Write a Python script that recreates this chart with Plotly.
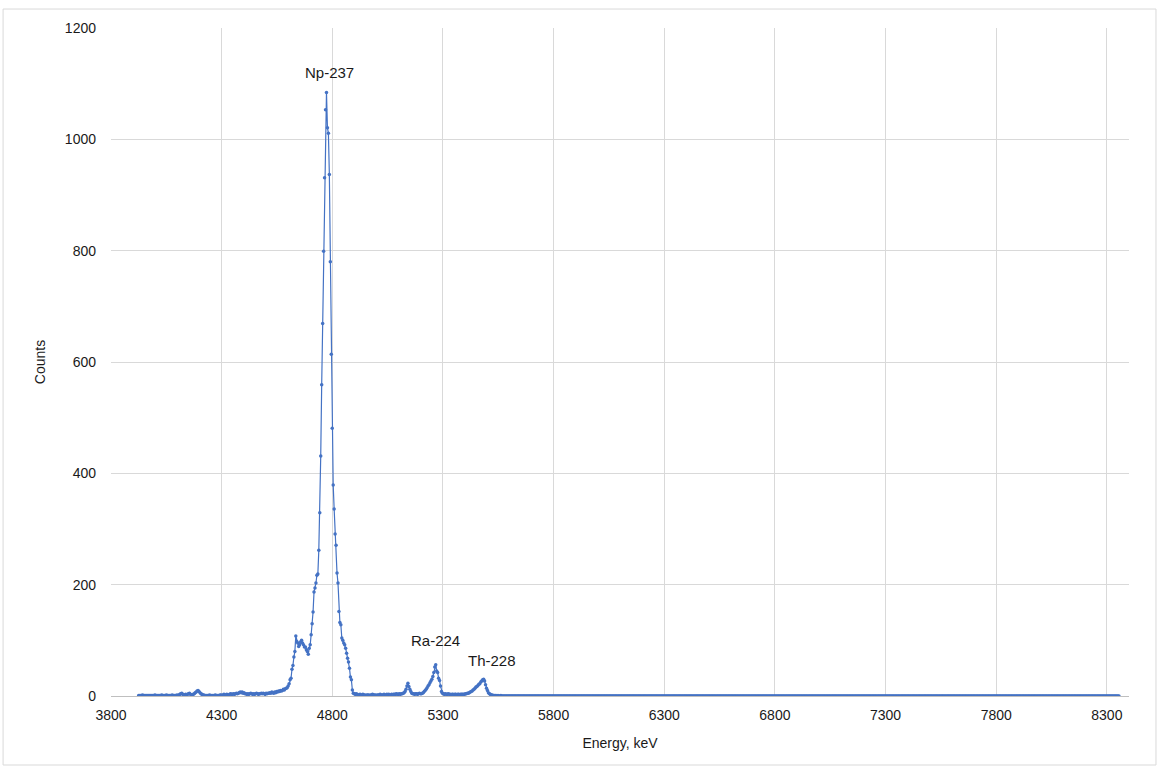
import plotly.graph_objects as go

# Channel calibration (keV) of the spectrum
CAL_OFFSET_KEV = 3925.0
CAL_GAIN_KEV = 4.33

# Counts per channel, channels 0..379
counts_low = [
    1, 1, 1, 1, 2, 1, 1, 1, 1, 1,
    1, 1, 1, 1, 1, 1, 1, 2, 1, 1,
    1, 1, 1, 1, 2, 1, 1, 1, 1, 2,
    1, 1, 1, 1, 1, 2, 1, 1, 1, 1,
    2, 1, 2, 3, 4, 5, 3, 2, 2, 3,
    2, 3, 4, 5, 3, 2, 2, 3, 4, 6,
    7, 9, 10, 8, 6, 4, 3, 2, 2, 1,
    1, 1, 1, 1, 2, 1, 1, 1, 1, 1,
    2, 1, 1, 1, 1, 2, 2, 1, 2, 3,
    2, 2, 3, 2, 2, 3, 4, 3, 3, 4,
    3, 4, 5, 4, 5, 6, 7, 6, 7, 5,
    6, 4, 4, 3, 4, 3, 4, 5, 4, 3,
    4, 3, 4, 5, 4, 3, 4, 4, 5, 4,
    5, 4, 3, 5, 4, 5, 5, 6, 5, 7,
    6, 5, 7, 6, 8, 7, 9, 8, 10, 9,
    10, 12, 11, 13, 14, 15, 18, 22, 29, 32,
    48, 55, 70, 80, 108, 98, 95, 89, 92, 97,
    100, 95, 92, 88, 88, 83, 80, 75, 86, 92,
    110, 130, 151, 187, 194, 203, 217, 219, 262, 329,
    431, 559, 669, 799, 931, 1053, 1084, 1021, 1011, 937,
    780, 614, 481, 379, 336, 291, 271, 221, 203, 152,
    132, 128, 104, 100, 95, 92, 86, 77, 68, 61,
    50, 34, 29, 11, 5, 4, 3, 4, 3, 2,
    2, 3, 2, 2, 3, 2, 2, 1, 2, 2,
    2, 1, 2, 2, 3, 2, 2, 2, 1, 2,
    2, 2, 3, 2, 2, 2, 3, 2, 2, 3,
    2, 3, 2, 2, 3, 2, 3, 3, 3, 4,
    3, 3, 4, 3, 4, 4, 5, 6, 8, 12,
    18, 23, 17, 12, 8, 5, 4, 4, 3, 4,
    4, 3, 4, 5, 4, 4, 5, 6, 8, 10,
    12, 15, 18, 20, 24, 27, 30, 35, 42, 52,
    56, 45, 42, 32, 28, 18, 8, 5, 4, 3,
    4, 3, 3, 4, 3, 3, 2, 3, 3, 2,
    3, 3, 2, 3, 3, 2, 3, 3, 3, 3,
    3, 4, 4, 5, 5, 6, 7, 8, 9, 11,
    12, 14, 16, 17, 19, 21, 22, 25, 27, 29,
    30, 27, 20, 14, 10, 6, 4, 3, 2, 2,
    1, 1, 1, 1, 0, 1, 0, 0, 1, 0,
]
# Channels 380..1023 are empty
counts_high = [0] * 644

counts = counts_low + counts_high
energy = [CAL_OFFSET_KEV + CAL_GAIN_KEV * i for i in range(len(counts))]

peak_labels = ["Np-237", "Ra-224", "Th-228"]
peak_channels = [196, 310, 360]

x_ticks = [3800, 4300, 4800, 5300, 5800, 6300, 6800, 7300, 7800, 8300]
y_ticks = [0, 200, 400, 600, 800, 1000, 1200]

LINE = "#4472C4"
GRID = "#D9D9D9"
TXT = "#1a1a1a"
FONT = "Liberation Sans, Arial, sans-serif"

fig = go.Figure()
fig.add_trace(go.Scatter(
    x=energy, y=counts, mode="lines+markers",
    line=dict(color=LINE, width=1.2),
    marker=dict(color=LINE, size=3.5, symbol="circle"),
    hoverinfo="x+y", showlegend=False,
))

shifts = [(3, 10), (0, 14), (8, 8)]
for lab, ch, (dx, dy) in zip(peak_labels, peak_channels, shifts):
    fig.add_annotation(
        x=energy[ch], y=counts[ch], text=lab, showarrow=False,
        xanchor="center", yanchor="bottom", xshift=dx, yshift=dy,
        font=dict(family=FONT, size=15, color=TXT),
    )

fig.add_shape(type="rect", xref="paper", yref="paper",
              x0=-0.106, x1=1.0265, y0=-0.1033, y1=1.0284,
              line=dict(color=GRID, width=1), layer="below")

fig.update_layout(
    width=1159, height=772,
    margin=dict(l=111, r=30, t=28, b=76),
    paper_bgcolor="white", plot_bgcolor="white",
    font=dict(family=FONT, size=14, color=TXT),
    xaxis=dict(
        range=[3800, 8400], tickvals=x_ticks,
        ticktext=[str(v) for v in x_ticks],
        showgrid=True, gridcolor=GRID, gridwidth=1,
        zeroline=False, showline=True, linecolor="#BFBFBF", linewidth=1,
        ticks="", ticklabelstandoff=6,
        tickfont=dict(family=FONT, size=14, color=TXT),
        title=dict(text="Energy, keV", standoff=16,
                   font=dict(family=FONT, size=14, color=TXT)),
    ),
    yaxis=dict(
        range=[0, 1200], tickvals=y_ticks,
        showgrid=True, gridcolor=GRID, gridwidth=1,
        zeroline=False, showline=False,
        ticks="", ticklabelstandoff=14,
        tickfont=dict(family=FONT, size=14, color=TXT),
        title=dict(text="Counts", standoff=15,
                   font=dict(family=FONT, size=14, color=TXT)),
    ),
)

fig.write_html("out.html", config={"displayModeBar": False},
               post_script="document.body.style.margin='0';")
